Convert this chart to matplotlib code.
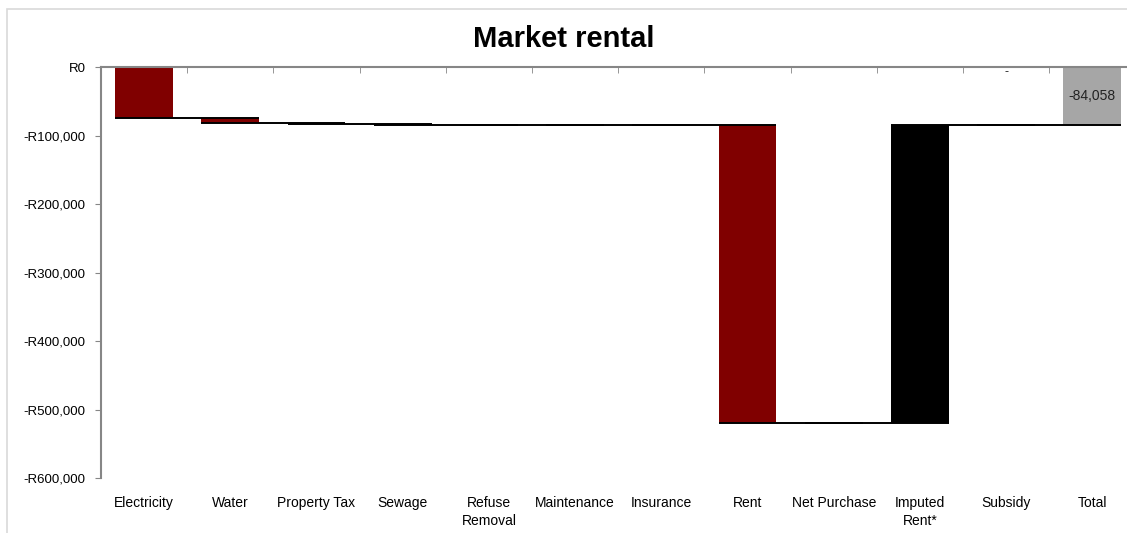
import numpy as np
import matplotlib.pyplot as plt
from matplotlib.patches import Rectangle
from matplotlib.ticker import FuncFormatter

categories = ['Electricity', 'Water', 'Property Tax', 'Sewage', 'Refuse\nRemoval',
              'Maintenance', 'Insurance', 'Rent', 'Net Purchase', 'Imputed\nRent*',
              'Subsidy', 'Total']
# change contributed by each item (Rand); last entry is the total
changes = [-73600, -8300, -700, -1300, -100, 0, -58, -435600, 0, 435600, 0]
total = -84058
colors = ['#800000'] * 9 + ['#000000', '#800000', '#A6A6A6']


def rand_fmt(v, pos):
    if v == 0:
        return 'R0'
    return '-R{:,.0f}'.format(abs(v))


def plot_waterfall():
    fig = plt.figure(figsize=(11.27, 5.33), dpi=100)
    plt.rcParams['font.family'] = ['Liberation Sans', 'DejaVu Sans']

    # light outer border of the chart area
    fig.patches.append(Rectangle((7 / 1127, -0.1), 1.2, 1 - 9 / 533 + 0.1,
                                 transform=fig.transFigure, fill=False,
                                 edgecolor='#D9D9D9', lw=1.2))

    ax = fig.add_axes([101 / 1127, 1 - 478.3 / 533, 1034.4 / 1127, (478.3 - 67.3) / 533])

    n = len(categories)
    x = np.arange(n)
    w = 0.67

    # start/end of each floating bar
    ends = np.cumsum(changes)
    starts = np.concatenate([[0], ends[:-1]])
    bottoms = list(starts) + [0]
    heights = list(changes) + [total]
    levels = list(ends) + [total]

    ax.bar(x, heights, bottom=bottoms, width=w, color=colors, zorder=2)

    # connector lines between consecutive bars
    for i in range(n - 1):
        ax.plot([x[i] - w / 2, x[i + 1] + w / 2], [levels[i], levels[i]],
                color='black', lw=1.4, zorder=3, solid_capstyle='butt')

    ax.text(x[-1], total / 2, '{:,.0f}'.format(total), ha='center', va='center',
            fontsize=10, color='#222222', zorder=4)
    ax.text(x[10], 1500, '-', ha='center', va='top', fontsize=9, color='#222222')

    ax.set_xlim(-0.5, n - 0.5)
    ax.set_ylim(-600000, 0)
    ax.set_yticks(np.arange(-600000, 1, 100000))
    ax.yaxis.set_major_formatter(FuncFormatter(rand_fmt))

    ax.set_xticks(x)
    ax.set_xticklabels(categories, linespacing=1.3)
    ax.set_xticks(np.arange(0.5, n - 0.5, 1), minor=True)
    ax.tick_params(axis='x', which='major', bottom=True, top=False, length=0,
                   pad=13, labelsize=10, colors='#000000')
    ax.tick_params(axis='x', which='minor', bottom=False, top=True,
                   direction='in', length=4, color='#868686')
    ax.tick_params(axis='y', which='major', length=4, color='#868686',
                   labelsize=9.5, pad=7)

    for s in ['right', 'bottom']:
        ax.spines[s].set_visible(False)
    for s in ['left', 'top']:
        ax.spines[s].set_color('#868686')
        ax.spines[s].set_linewidth(1.5)

    fig.text(0.5, 1 - 39 / 533, 'Market rental', ha='center', va='center',
             fontsize=21, fontweight='bold')

    fig.savefig('out.png', dpi=100)


def main():
    plot_waterfall()


if __name__ == "__main__":
    main()
